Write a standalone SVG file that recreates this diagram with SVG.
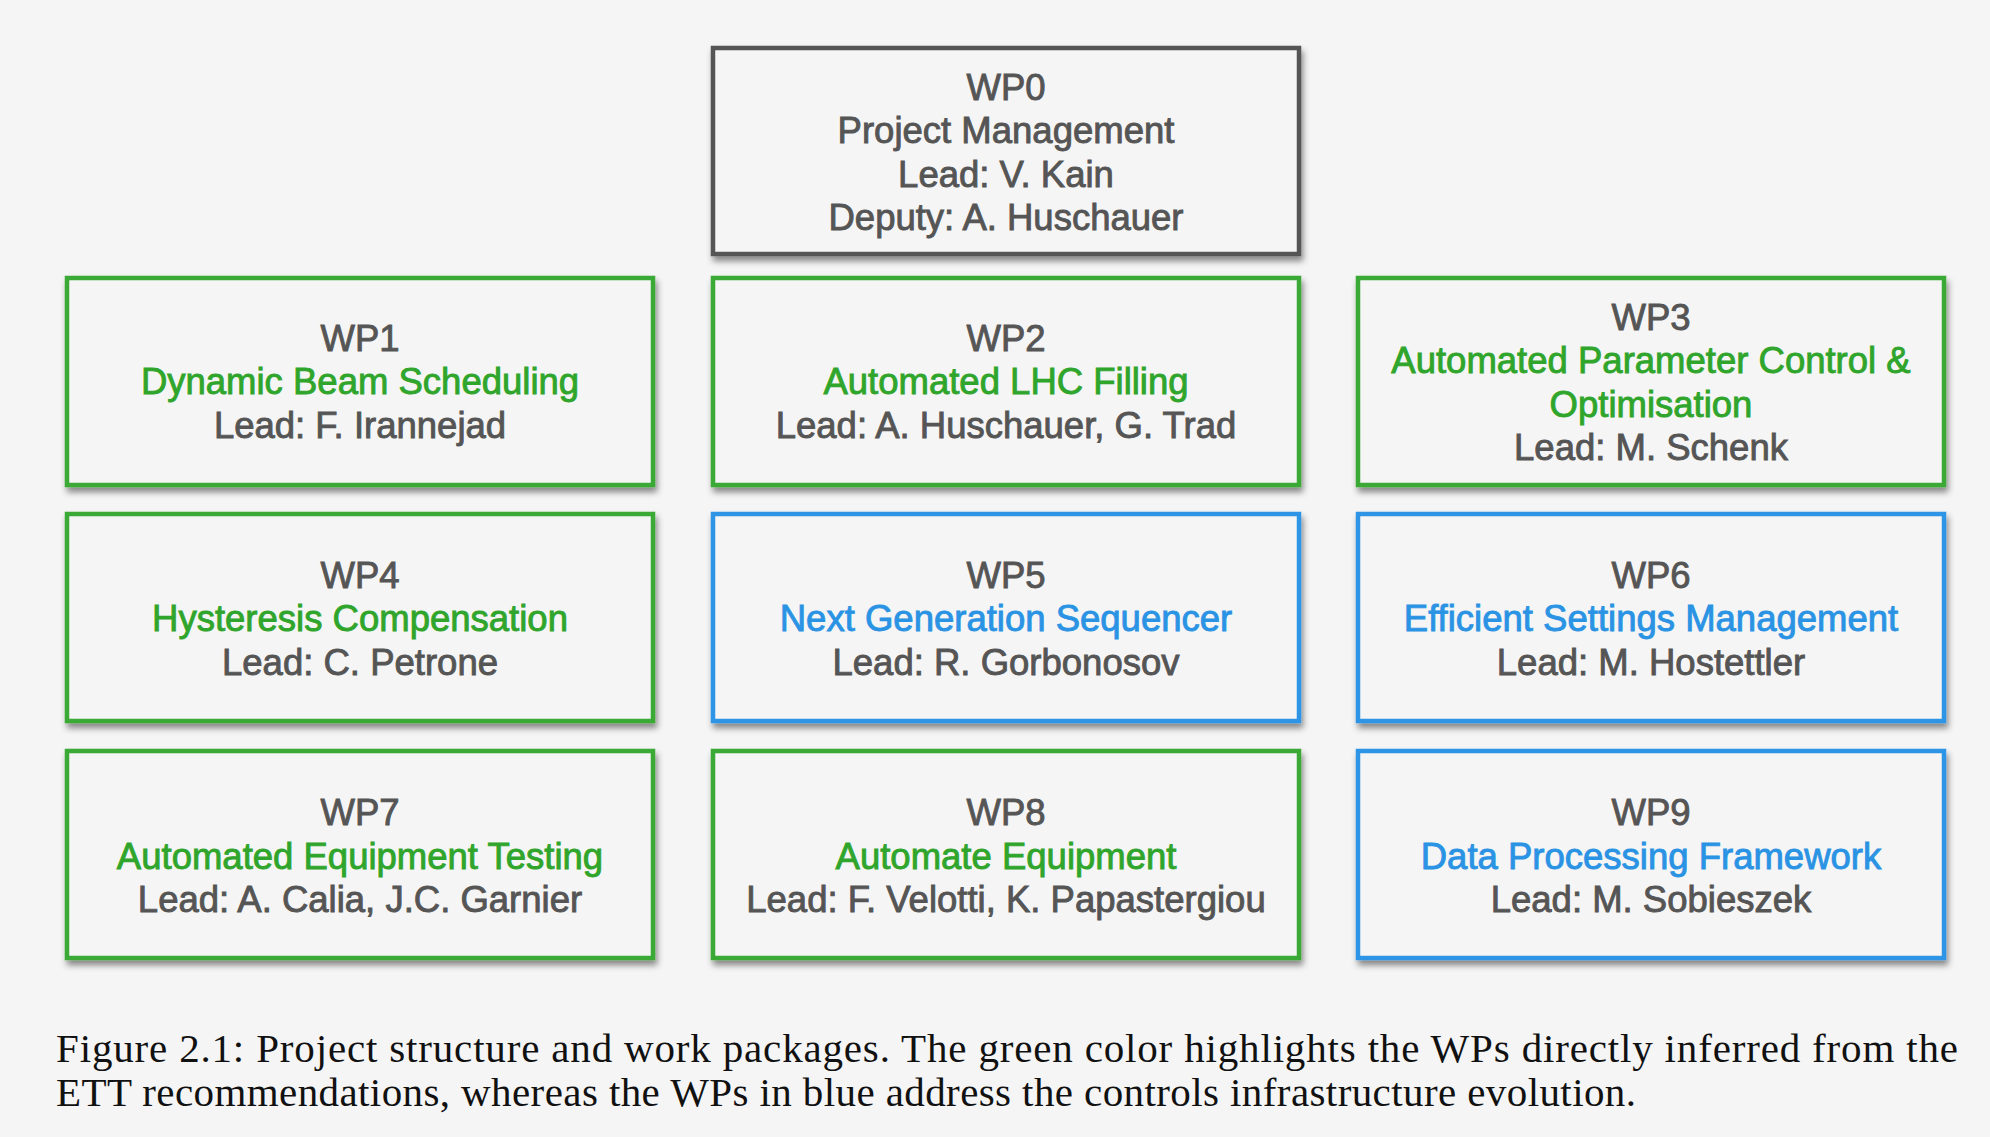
<svg xmlns="http://www.w3.org/2000/svg" width="1990" height="1137" viewBox="0 0 1990 1137">
<defs>
<filter id="sh" x="-5%" y="-10%" width="112%" height="125%">
<feDropShadow dx="2" dy="5" stdDeviation="3" flood-color="#000" flood-opacity="0.45"/>
</filter>
<style>
.box{fill:#f5f5f5;stroke-width:4.5;filter:url(#sh)}
.g{stroke:#3aa935}
.b{stroke:#2f95e6}
.k{stroke:#555555}
text{font-family:"Liberation Sans",Arial,sans-serif;font-size:36.5px;text-anchor:middle;stroke-width:0.9px}
.t{fill:#555555;stroke:#555555}
.tg{fill:#30a52c;stroke:#30a52c}
.tb{fill:#2a93e4;stroke:#2a93e4}
.cap{font-family:"Liberation Serif","Times New Roman",serif;font-size:41px;fill:#111;stroke:none;text-anchor:start}
</style>
</defs>
<rect width="1990" height="1137" fill="#f5f5f5"/>
<g id="connectors"></g>
<g id="wp0">
<rect class="box k" x="713" y="48" width="586" height="206"/>
<text class="t" x="1006" y="100">WP0</text>
<text class="t" x="1006" y="143">Project Management</text>
<text class="t" x="1006" y="187">Lead: V. Kain</text>
<text class="t" x="1006" y="230">Deputy: A. Huschauer</text>
</g>
<g id="wp1">
<rect class="box g" x="67" y="278" width="586" height="207"/>
<text class="t" x="360" y="351">WP1</text>
<text class="tg" x="360" y="394">Dynamic Beam Scheduling</text>
<text class="t" x="360" y="438">Lead: F. Irannejad</text>
</g>
<g id="wp2">
<rect class="box g" x="713" y="278" width="586" height="207"/>
<text class="t" x="1006" y="351">WP2</text>
<text class="tg" x="1006" y="394">Automated LHC Filling</text>
<text class="t" x="1006" y="438">Lead: A. Huschauer, G. Trad</text>
</g>
<g id="wp3">
<rect class="box g" x="1358" y="278" width="586" height="207"/>
<text class="t" x="1651" y="330">WP3</text>
<text class="tg" x="1651" y="373">Automated Parameter Control &amp;</text>
<text class="tg" x="1651" y="417">Optimisation</text>
<text class="t" x="1651" y="460">Lead: M. Schenk</text>
</g>
<g id="wp4">
<rect class="box g" x="67" y="514" width="586" height="207"/>
<text class="t" x="360" y="588">WP4</text>
<text class="tg" x="360" y="631">Hysteresis Compensation</text>
<text class="t" x="360" y="675">Lead: C. Petrone</text>
</g>
<g id="wp5">
<rect class="box b" x="713" y="514" width="586" height="207"/>
<text class="t" x="1006" y="588">WP5</text>
<text class="tb" x="1006" y="631">Next Generation Sequencer</text>
<text class="t" x="1006" y="675">Lead: R. Gorbonosov</text>
</g>
<g id="wp6">
<rect class="box b" x="1358" y="514" width="586" height="207"/>
<text class="t" x="1651" y="588">WP6</text>
<text class="tb" x="1651" y="631">Efficient Settings Management</text>
<text class="t" x="1651" y="675">Lead: M. Hostettler</text>
</g>
<g id="wp7">
<rect class="box g" x="67" y="751" width="586" height="207"/>
<text class="t" x="360" y="825">WP7</text>
<text class="tg" x="360" y="869">Automated Equipment Testing</text>
<text class="t" x="360" y="912">Lead: A. Calia, J.C. Garnier</text>
</g>
<g id="wp8">
<rect class="box g" x="713" y="751" width="586" height="207"/>
<text class="t" x="1006" y="825">WP8</text>
<text class="tg" x="1006" y="869">Automate Equipment</text>
<text class="t" x="1006" y="912">Lead: F. Velotti, K. Papastergiou</text>
</g>
<g id="wp9">
<rect class="box b" x="1358" y="751" width="586" height="207"/>
<text class="t" x="1651" y="825">WP9</text>
<text class="tb" x="1651" y="869">Data Processing Framework</text>
<text class="t" x="1651" y="912">Lead: M. Sobieszek</text>
</g>
<g id="caption">
<text class="cap" x="56" y="1062" textLength="1902" lengthAdjust="spacing">Figure 2.1: Project structure and work packages.  The green color highlights the WPs directly inferred from the</text>
<text class="cap" x="56" y="1106" textLength="1580" lengthAdjust="spacing">ETT recommendations, whereas the WPs in blue address the controls infrastructure evolution.</text>
</g>
</svg>
